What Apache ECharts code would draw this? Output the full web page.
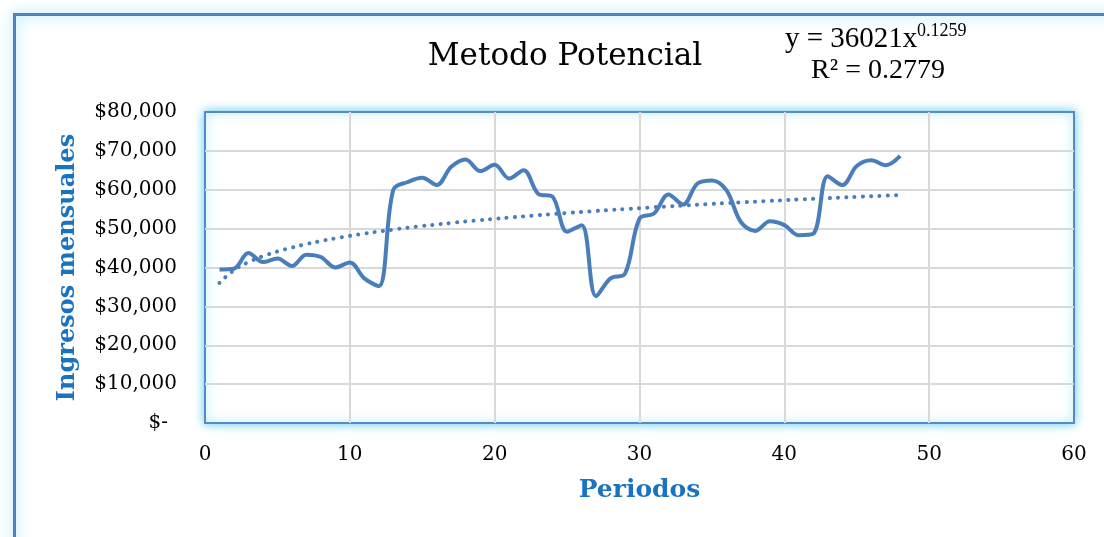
<!DOCTYPE html>
<html>
<head>
<meta charset="utf-8">
<script src="https://cdn.jsdelivr.net/npm/echarts@6/dist/echarts.min.js"></script>
<style>
html,body{margin:0;padding:0;background:#fff;}
#c{width:1104px;height:537px;}
</style>
</head>
<body>
<div id="c"></div>
<script>
// ---- data ----
const periods = [1,2,3,4,5,6,7,8,9,10,11,12,13,14,15,16,17,18,19,20,21,22,23,24,25,26,27,28,29,30,31,32,33,34,35,36,37,38,39,40,41,42,43,44,45,46,47,48];
const ingresos = [39500,39700,43700,41400,42300,40400,43300,42700,40000,41300,37200,35200,
  60000,62000,63100,61200,65900,67800,64800,66400,62900,65000,59000,58200,
  49200,50900,32600,37200,38400,52600,53900,58800,56200,61600,62400,59900,
  51700,49400,51900,50900,48300,48700,63500,61200,66100,67600,66300,68700];
const tendencia = [36021,39305,41364,42890,44112,45136,46021,46801,47500,48135,48716,49252,
  49751,50218,50656,51069,51460,51832,52186,52524,52847,53158,53457,53744,
  54021,54288,54547,54797,55040,55275,55504,55726,55943,56153,56358,56559,
  56754,56945,57132,57314,57493,57668,57838,58006,58170,58331,58489,58645];
const xTicks = [0,10,20,30,40,50,60];
const yTicks = [0,10000,20000,30000,40000,50000,60000,70000,80000];
const titleText = 'Metodo Potencial';
const eqMain = 'y = 36021x';
const eqExp = '0.1259';
const r2Text = 'R² = 0.2779';
const xName = 'Periodos';
const yName = 'Ingresos mensuales';

const serieData = periods.map((p,i)=>[p, ingresos[i]]);
const trendData = periods.map((p,i)=>[p, tendencia[i]]);

const chart = echarts.init(document.getElementById('c'), null, {renderer:'canvas'});
const blue = '#4a7ebb';
const nameBlue = '#1a73c1';
const serif = 'DejaVu Serif';

function money(v){
  if (v === 0) return '{z|$-}';
  return '$' + v.toString().replace(/\B(?=(\d{3})+(?!\d))/g, ',');
}

chart.setOption({
  backgroundColor: '#ffffff',
  animation: false,
  grid: {
    left: 205, right: 30, top: 112, bottom: 114,
    show: true,
    backgroundColor: '#ffffff',
    borderColor: '#5a88c6',
    borderWidth: 2,
    shadowColor: 'rgba(100,205,245,1)',
    shadowBlur: 10
  },
  xAxis: {
    type: 'value',
    min: xTicks[0], max: xTicks[xTicks.length-1], interval: 10,
    axisLine: {show: false},
    axisTick: {show: false},
    axisLabel: {margin: 22, color: '#000', fontFamily: serif, fontSize: 20},
    splitLine: {show: true, showMinLine: false, showMaxLine: false, lineStyle: {color: '#d9d9d9', width: 2}},
    name: xName,
    nameLocation: 'middle',
    nameGap: 55,
    nameTextStyle: {color: nameBlue, fontFamily: serif, fontWeight: 'bold', fontSize: 25}
  },
  yAxis: {
    type: 'value',
    min: yTicks[0], max: yTicks[yTicks.length-1], interval: 10000,
    axisLine: {show: false},
    axisTick: {show: false},
    axisLabel: {
      margin: 28, color: '#000', fontFamily: serif, fontSize: 20,
      formatter: money,
      rich: {z: {fontFamily: serif, fontSize: 20, color: '#000', padding: [0, 9, 0, 0]}}
    },
    splitLine: {show: true, showMinLine: false, showMaxLine: false, lineStyle: {color: '#d9d9d9', width: 2}},
    name: yName,
    nameLocation: 'middle',
    nameGap: 125,
    nameTextStyle: {color: nameBlue, fontFamily: serif, fontWeight: 'bold', fontSize: 24}
  },
  graphic: [
    {
      type: 'rect', silent: true, z: -10,
      shape: {x: 14.5, y: 14.5, width: 1200, height: 700},
      style: {fill: 'none', stroke: '#4f81bd', lineWidth: 3, shadowBlur: 14, shadowColor: 'rgba(110,210,245,1)'}
    },
    {
      type: 'text', x: 565, y: 57, z: 10,
      style: {text: titleText, fontFamily: serif, fontSize: 31, fill: '#000', textAlign: 'center', textVerticalAlign: 'middle'}
    },
    {
      type: 'text', x: 785, y: 39, z: 10,
      style: {text: eqMain, fontFamily: 'Liberation Serif', fontSize: 29, fill: '#000', textAlign: 'left', textVerticalAlign: 'middle'}
    },
    {
      type: 'text', x: 917, y: 31, z: 10,
      style: {text: eqExp, fontFamily: 'Liberation Serif', fontSize: 18, fill: '#000', textAlign: 'left', textVerticalAlign: 'middle'}
    },
    {
      type: 'text', x: 878, y: 71, z: 10,
      style: {text: r2Text, fontFamily: 'Liberation Serif', fontSize: 28, fill: '#000', textAlign: 'center', textVerticalAlign: 'middle'}
    }
  ],
  series: [
    {
      type: 'line',
      data: trendData,
      smooth: true,
      showSymbol: false,
      lineStyle: {color: blue, width: 4, type: [0.1, 8.2], cap: 'round'},
      z: 3
    },
    {
      type: 'line',
      data: serieData,
      smooth: 0.35,
      showSymbol: false,
      lineStyle: {color: blue, width: 4},
      z: 4
    }
  ]
});
</script>
</body>
</html>
